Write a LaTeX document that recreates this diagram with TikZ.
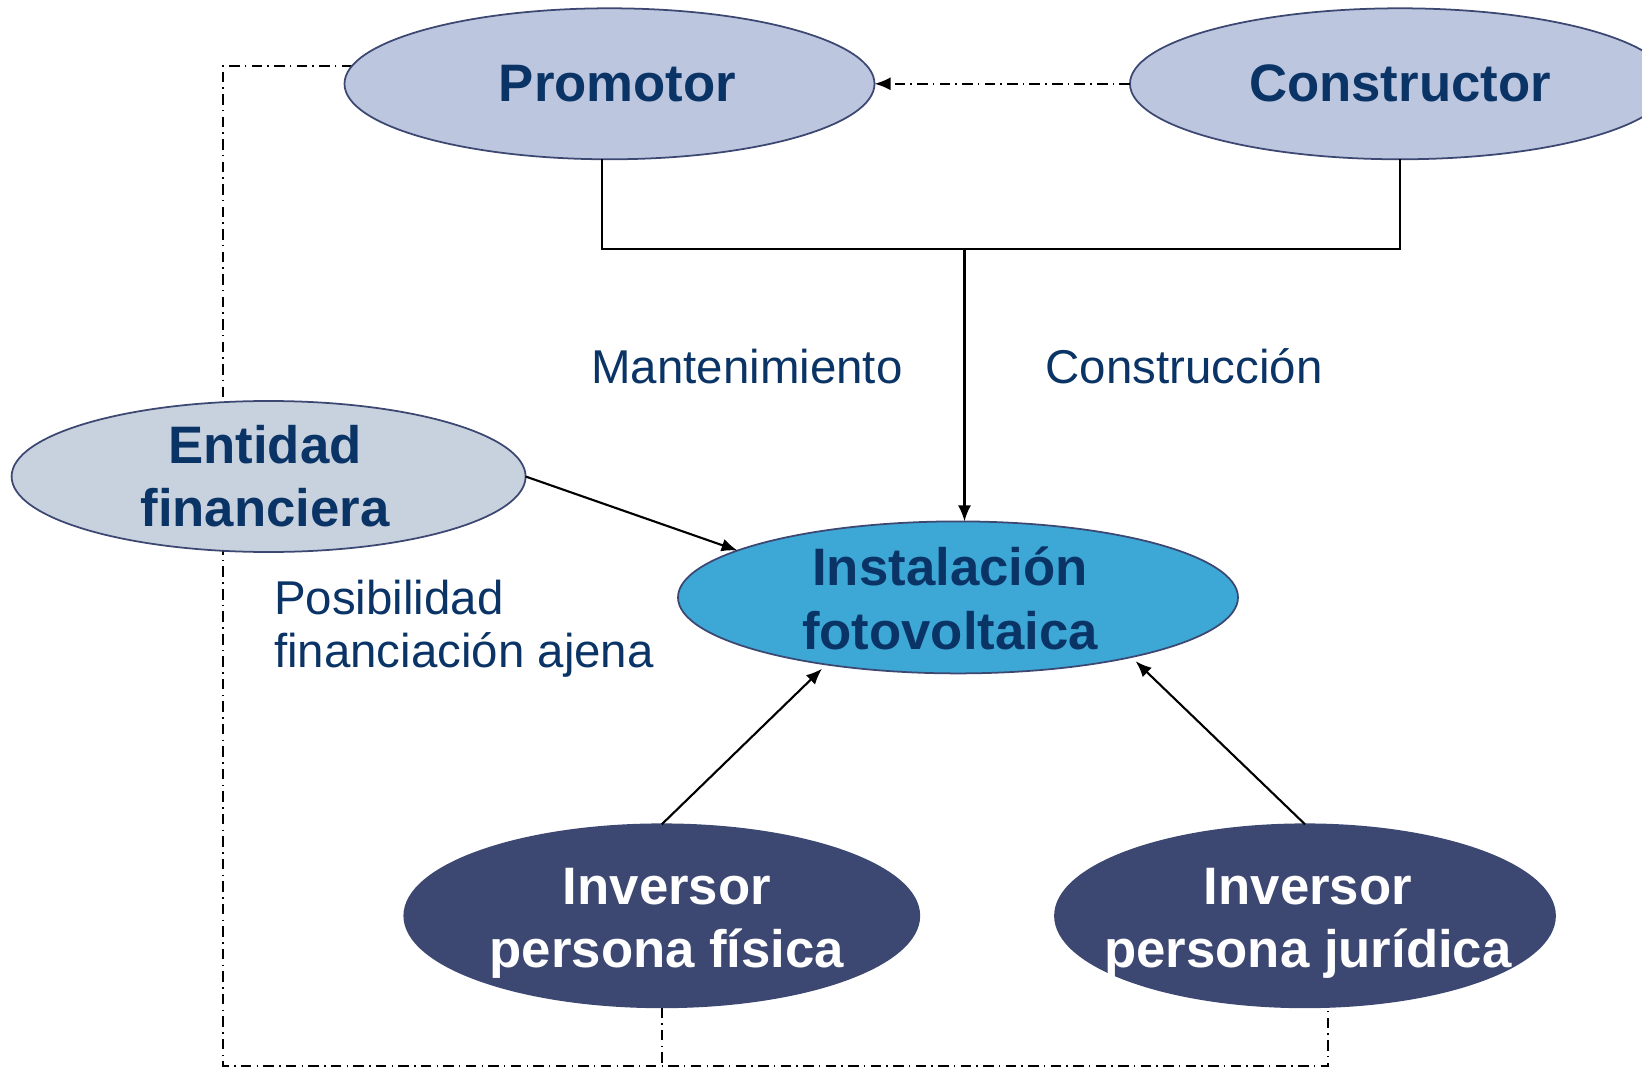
\documentclass[tikz,border=0pt]{standalone}
\usepackage{fontspec}
\setmainfont{Liberation Sans}
\usetikzlibrary{shapes.geometric,arrows.meta,backgrounds}

\definecolor{navy}{HTML}{0B3466}
\definecolor{rim}{HTML}{3C4872}
\definecolor{promfill}{HTML}{BDC6DF}
\definecolor{entfill}{HTML}{C8D2DF}
\definecolor{instfill}{HTML}{3DA7D6}
\definecolor{invfill}{HTML}{3C4872}

\begin{document}
\begin{tikzpicture}[scale=1, >={Latex[length=1.6mm,width=1.3mm]},
    actor/.style={ellipse, draw=rim, line width=0.5pt, inner sep=0pt, outer sep=0pt},
    actortext/.style={font=\fontsize{15}{18}\selectfont\bfseries, text=navy, align=center, inner sep=0pt},
    flowtext/.style={font=\fontsize{13.5}{15}\selectfont, text=navy, inner sep=0pt},
    link/.style={line width=0.6pt},
    dashdot/.style={line width=0.6pt, dash pattern=on 3pt off 1.5pt on 0.4pt off 1.5pt}]

    \useasboundingbox (0,0) rectangle (16.42,10.70);

    % Actors (ellipses)
    \node[actor, fill=promfill, minimum width=5.30cm, minimum height=1.51cm] (prom) at (6.095,9.862) {};
    \node[actor, fill=promfill, minimum width=5.40cm, minimum height=1.51cm] (cons) at (14.00,9.862) {};
    \node[actor, fill=entfill, minimum width=5.14cm, minimum height=1.51cm] (ent) at (2.686,5.935) {};
    \node[actor, fill=instfill, minimum width=5.60cm, minimum height=1.52cm] (inst) at (9.58,4.726) {};
    \node[actor, fill=invfill, minimum width=5.15cm, minimum height=1.83cm] (fis) at (6.618,1.542) {};
    \node[actor, fill=invfill, minimum width=5.00cm, minimum height=1.83cm] (jur) at (13.05,1.542) {};

    % Actor names
    \node[actortext] (promlbl) at (6.175,9.862) {Promotor};
    \node[actortext] (conslbl) at (cons) {Constructor};
    \node[actortext] (entlbl) at (2.65,5.935) {Entidad\\financiera};
    \node[actortext] (instlbl) at (9.50,4.716) {Instalación\\fotovoltaica};
    \node[actortext, text=white] (fislbl) at (6.67,1.47) {Inversor\\persona física};
    \node[actortext, text=white] (jurlbl) at (13.08,1.47) {Inversor\\persona jurídica};

    % Dash-dot loop behind the ellipses
    \coordinate (loop) at (2.23,0.04);
    \begin{pgfonlayer}{background}
        \draw[dashdot] (prom.176) -| (loop) -| (jur.284);
        \draw[dashdot] (fis.south) -- (fis.south |- loop);
    \end{pgfonlayer}
    \draw[dashdot, ->] (cons.west) -- (prom.east);

    % Promotor and Constructor feed the installation
    \coordinate (bar) at (9.645,8.21);
    \draw[link] (prom.264) |- (bar) -| (cons.south);
    \draw[link, ->] (bar) -- (bar |- inst.north);

    % Finance and investors
    \draw[link, ->] (ent.east) -- (inst.168);
    \draw[link, ->, shorten >=0.6mm] (fis.north) -- (inst.207);
    \draw[link, ->, shorten >=0.6mm] (jur.north) -- (inst.341);

    % Flow labels
    \node[flowtext] (mant) at (7.47,7.035) {Mantenimiento};
    \node[flowtext] (constr) at (11.84,7.035) {Construcción};
    \node[flowtext, anchor=west, align=left] (posib) at (2.733,4.415) {Posibilidad\\financiación ajena};

\end{tikzpicture}
\end{document}
